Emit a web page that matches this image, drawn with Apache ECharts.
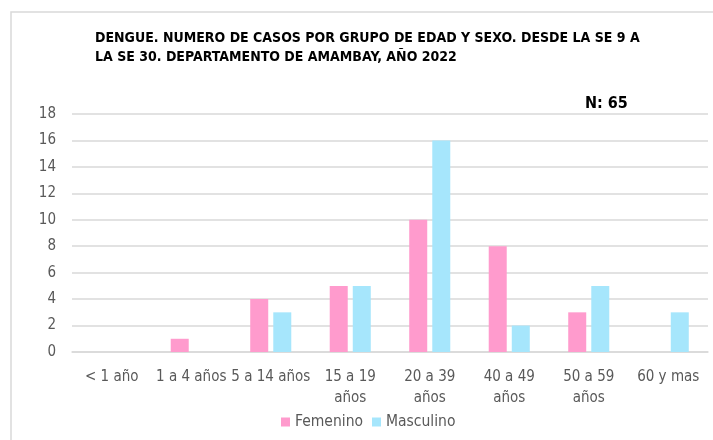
<!DOCTYPE html>
<html>
<head>
<meta charset="utf-8">
<script src="https://cdn.jsdelivr.net/npm/echarts@6/dist/echarts.min.js"></script>
<style>html,body{margin:0;padding:0;background:#fff}#c{width:713px;height:440px}</style>
</head>
<body>
<div id="c"></div>
<script>
const categories = ['< 1 año','1 a 4 años','5 a 14 años','15 a 19 años','20 a 39 años','40 a 49 años','50 a 59 años','60 y mas'];
const tickLabels = ['< 1 año','1 a 4 años','5 a 14 años','15 a 19\naños','20 a 39\naños','40 a 49\naños','50 a 59\naños','60 y mas'];
const femenino = [0,1,4,5,10,8,3,0];
const masculino = [0,0,3,5,16,2,5,3];
const yTicks = [0,2,4,6,8,10,12,14,16,18];
const titleText = 'DENGUE. NUMERO DE CASOS POR GRUPO DE EDAD Y SEXO. DESDE LA SE 9 A\nLA SE 30. DEPARTAMENTO DE AMAMBAY, AÑO 2022';
const nText = 'N: 65';

const FONT = '"Liberation Sans Narrow", "DejaVu Sans Condensed", sans-serif';
const chart = echarts.init(document.getElementById('c'));
chart.setOption({
  animation: false,
  textStyle: { fontFamily: FONT },
  title: [
    { text: titleText, left: 90, top: 24, textStyle: { fontFamily: FONT, fontSize: 14, fontWeight: 'bold', color: '#000', lineHeight: 19 } },
    { text: nText, left: 580, top: 91, textStyle: { fontFamily: FONT, fontSize: 16, fontWeight: 'bold', color: '#000' } }
  ],
  graphic: [
    { type: 'rect', shape: { x: 11, y: 12, width: 720, height: 440 }, style: { fill: 'none', stroke: '#D9D9D9', lineWidth: 1.5 }, silent: true }
  ],
  legend: {
    data: ['Femenino','Masculino'], left: 276, top: 409, itemWidth: 9, itemHeight: 9, itemGap: 9,
    icon: 'rect', textStyle: { fontFamily: FONT, fontSize: 15.5, color: '#595959' }
  },
  grid: { left: 72, right: 5, top: 114, bottom: 88, containLabel: false },
  xAxis: {
    type: 'category', data: categories,
    axisLine: { lineStyle: { color: '#D9D9D9', width: 1.5 } },
    axisTick: { show: false },
    axisLabel: { interval: 0, margin: 15, fontFamily: FONT, fontSize: 15, color: '#595959', lineHeight: 21,
      formatter: (v, i) => tickLabels[i] }
  },
  yAxis: {
    type: 'value', min: 0, max: 18, interval: 2,
    axisLine: { show: false }, axisTick: { show: false },
    splitLine: { lineStyle: { color: '#D9D9D9', width: 1.5 } },
    axisLabel: { margin: 16, fontFamily: FONT, fontSize: 15, color: '#595959' }
  },
  series: [
    { name: 'Femenino', type: 'bar', data: femenino, barWidth: 18, barGap: '28%',
      itemStyle: { color: '#FF9BCD' } },
    { name: 'Masculino', type: 'bar', data: masculino, barWidth: 18,
      itemStyle: { color: '#A6E6FC' } }
  ]
});
</script>
</body>
</html>
